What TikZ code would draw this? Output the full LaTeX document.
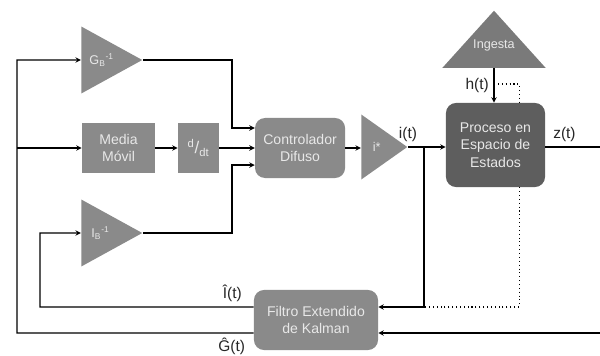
\documentclass[tikz,border=0pt]{standalone}
\usepackage{fontspec}
\setmainfont{Liberation Sans}
\usetikzlibrary{shapes.geometric, arrows, positioning, calc}
\definecolor{boxfill}{RGB}{138,138,138}
\definecolor{procfill}{RGB}{94,94,94}
\definecolor{ingfill}{RGB}{122,122,122}
\definecolor{boxtext}{RGB}{232,232,232}
\tikzstyle{block} = [rectangle, minimum width=1.825cm, minimum height=1.225cm, text centered, align=center, fill=boxfill, text=boxtext, font=\fontsize{10}{12.6}\selectfont]
\tikzstyle{rblock} = [block, rounded corners=0.25cm]
\tikzstyle{gain} = [isosceles triangle, isosceles triangle stretches, inner sep=0pt, fill=boxfill, text=boxtext, font=\fontsize{9}{11}\selectfont]
\tikzstyle{arrow} = [line width=0.75pt,->,>=stealth]
\tikzstyle{feed} = [line width=0.75pt, dotted]
\tikzstyle{sig} = [font=\fontsize{11}{13}\selectfont, text=black!85]

\begin{document}
\begin{tikzpicture}[x=0.025cm, y=-0.025cm, node distance=2cm]
    \useasboundingbox (0,0) rectangle (600,356);
    \node (gb) [gain, minimum width=1.675cm, minimum height=1.525cm, anchor=apex] at (143,60) {G\textsubscript{B}\textsuperscript{-1}};
    \node (media) [block] at (118.5,148) {Media\\Móvil};
    \node (ddt) [block, right of=media, minimum width=1.025cm] {{\large\textsuperscript{d}/\textsubscript{dt}}};
    \node (ctrl) [rblock, right of=ddt, node distance=2.5375cm, minimum width=2.25cm, minimum height=1.5cm] {Controlador\\Difuso};
    \node (istar) [gain, minimum width=1.625cm, minimum height=1.15cm, anchor=apex] at (408,147) {i*};
    \node (proc) [rblock, fill=procfill, minimum width=2.475cm, minimum height=2.1cm] at (495.5,145) {Proceso en\\Espacio de\\Estados};
    \node (ingesta) [gain, shape border rotate=90, fill=ingfill, minimum width=2.575cm, minimum height=1.425cm, anchor=apex] at (494,10) {\makebox[0pt]{\raisebox{-2.5pt}[0pt][0pt]{Ingesta}}};
    \node (ib) [gain, minimum width=1.675cm, minimum height=1.525cm, anchor=apex] at (143,233) {I\textsubscript{B}\textsuperscript{-1}};
    \node (kalman) [rblock, minimum width=3.1cm, minimum height=1.5cm] at (316,320) {Filtro Extendido\\de Kalman};

    \coordinate (bus) at (17,148);
    \coordinate (split) at (424,147);
    \coordinate (corner) at (424,307);
    \coordinate (hobs) at (498,84);
    \coordinate (zout) at (600,147);
    \coordinate (zin) at (600,333);

    \draw [arrow] ([yshift=-0.325cm]kalman.west) -- node[sig, below, pos=0.093] {Ĝ(t)} (17,333) -- (17,60) -- (gb.west);
    \draw [arrow] (bus) -- (media.west);
    \draw [arrow] ([yshift=0.325cm]kalman.west) -- node[sig, above, pos=0.1] {Î(t)} (40,307) |- (ib.west);
    \draw [arrow] (media) -- (ddt);
    \draw [arrow] (ddt) -- (ctrl);
    \draw [arrow] (gb.apex) -- (232,60) |- ([yshift=0.5cm]ctrl.west);
    \draw [arrow] (ib.apex) -- (232,233) |- ([yshift=-0.425cm]ctrl.west);
    \draw [arrow] (ctrl.east) -- (ctrl.east -| istar.west);
    \draw [arrow] (istar.apex) -- node[sig, above, pos=0] {i(t)} (istar.apex -| proc.west);
    \draw [arrow] (split) -- (corner) -- (corner -| kalman.east);
    \draw [line width=0.75pt] (zout -| proc.east) -- node[sig, above, pos=0.35] {z(t)} (zout);
    \draw [arrow] (zin) -- (zin -| kalman.east);
    \draw [arrow] (ingesta.south) -- node[sig, left] {h(t)} (ingesta.south |- proc.north);
    \draw [feed] (hobs) -| ([xshift=0.59cm]proc.north);
    \draw [feed] ([xshift=0.59cm]proc.south) |- (corner);
\end{tikzpicture}
\end{document}
